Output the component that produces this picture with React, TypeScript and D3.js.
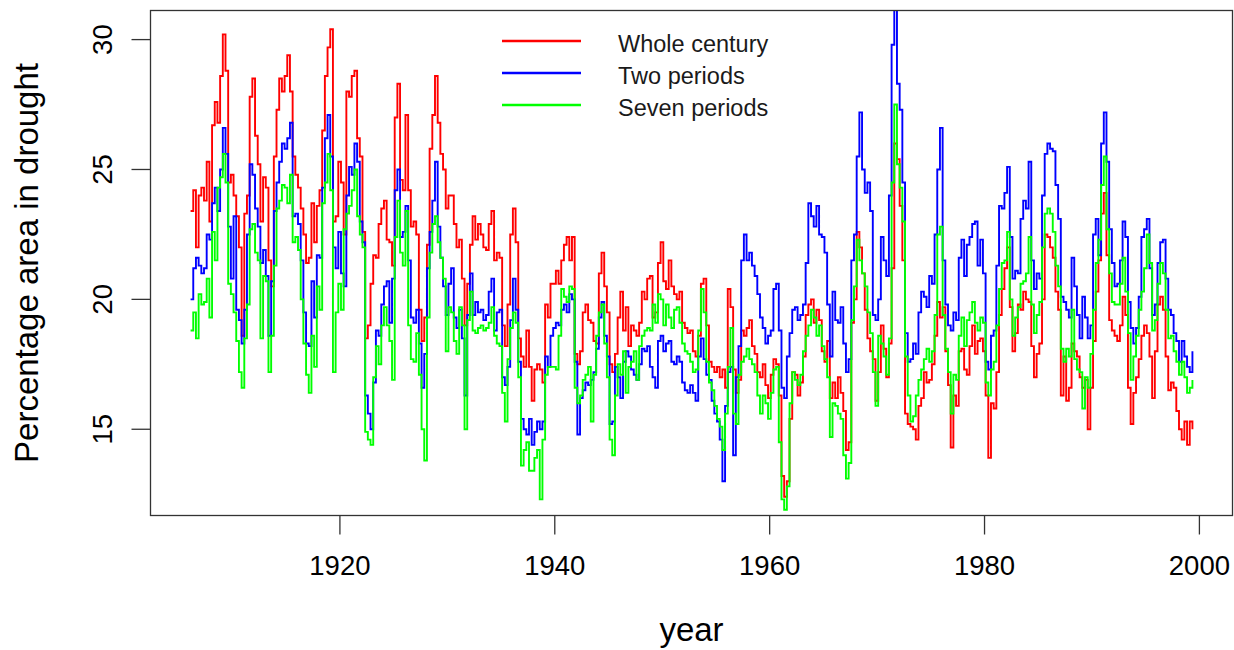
import React from "react";
import * as d3 from "d3";

// Quarterly readings of the percentage of area in drought, starting 1906.1
const START_YEAR = 1906.1;
const STEP = 0.25;

const wholeCentury = [
  23.4, 24.2, 22.0, 24.0,
  24.3, 23.8, 25.3, 23.0,
  26.7, 27.6, 26.8, 28.6,
  30.2, 28.8, 24.5, 24.8,
  24.0, 23.2, 22.0, 18.6,
  23.3, 24.0, 27.8, 28.5,
  26.3, 25.2, 23.0, 24.7,
  24.3, 21.5, 20.5, 25.5,
  27.3, 28.5, 28.0, 28.6,
  29.4, 28.0, 25.5, 24.8,
  24.3, 23.5, 22.5, 21.4,
  21.6, 23.7, 22.2, 23.6,
  24.2, 26.5, 28.6, 29.7,
  30.4, 23.0, 23.2, 25.3,
  24.5, 22.5, 28.0, 27.8,
  28.6, 28.8, 26.2, 25.5,
  22.6, 18.5, 19.0, 20.6,
  21.7, 21.6, 22.9, 23.5,
  23.8, 22.3, 22.2, 21.3,
  27.0, 28.3, 24.6, 24.2,
  27.1, 24.2, 22.8, 23.0,
  22.5, 19.6, 18.4, 19.3,
  22.1, 25.8, 27.1, 28.6,
  26.8, 25.6, 25.0, 23.5,
  24.0, 24.0, 22.9, 22.0,
  22.3, 20.8, 19.0, 20.6,
  22.1, 23.2, 22.3, 22.9,
  22.5, 22.0, 21.9, 22.9,
  23.4, 21.5, 21.8, 21.6,
  19.0, 18.2, 19.8, 22.5,
  23.5, 22.2, 18.5, 17.8,
  17.4, 18.8, 17.4, 16.1,
  17.3, 17.5, 17.3, 16.8,
  19.8, 19.3, 20.6, 20.6,
  21.1, 20.6, 21.5, 22.1,
  22.4, 21.5, 22.4, 17.9,
  17.5, 18.0, 19.5, 19.8,
  19.2, 19.1, 18.4, 18.3,
  21.0, 21.8, 20.5, 19.5,
  17.5, 17.2, 17.9, 19.3,
  20.3, 18.8, 19.7, 18.2,
  19.0, 18.8, 18.6, 19.1,
  20.3, 20.0, 20.8, 20.9,
  19.3, 19.5, 21.4, 22.2,
  20.7, 20.4, 21.5, 20.5,
  20.2, 20.0, 20.3, 19.1,
  18.9, 18.7, 18.8, 18.0,
  17.8, 18.6, 20.6, 20.8,
  19.0, 17.6, 17.4, 17.2,
  17.4, 17.0, 17.3, 16.6,
  20.4, 19.7, 17.3, 16.4,
  16.9, 18.8, 18.6, 18.9,
  19.2, 18.2, 17.9, 17.2,
  17.0, 17.5, 16.7, 16.2,
  17.1, 17.7, 17.5, 16.3,
  13.2, 12.4, 13.0, 15.4,
  17.2, 17.1, 16.3, 16.8,
  17.8, 19.4, 19.8, 20.0,
  19.1, 19.6, 19.2, 18.0,
  17.6, 18.4, 16.2, 16.8,
  16.2, 17.0, 16.4, 15.7,
  14.2, 14.5, 19.1, 20.0,
  22.6, 22.0, 21.0, 19.6,
  18.5, 18.0, 17.7, 16.1,
  17.2, 19.0, 18.1, 17.0,
  18.3, 21.2, 26.0, 25.4,
  23.6, 21.5, 15.6, 15.2,
  15.1, 15.0, 14.6, 15.9,
  16.2, 17.2, 16.8, 16.9,
  17.5, 18.6, 19.9, 19.3,
  19.7, 18.0, 16.7, 14.3,
  16.3, 15.9, 18.0, 18.1,
  17.3, 17.1, 18.2, 19.0,
  17.9, 18.4, 18.5, 18.0,
  16.3, 13.9, 16.0, 15.8,
  17.2, 19.4, 20.4, 21.2,
  22.0, 19.7, 18.0, 18.7,
  19.8, 19.6, 20.3, 20.0,
  19.9, 18.2, 17.0, 17.9,
  18.3, 20.0, 22.5, 22.4,
  22.0, 21.6, 20.3, 19.6,
  16.3, 17.8, 16.1, 16.6,
  18.3, 18.0, 17.8, 17.0,
  16.6, 16.9, 15.0, 16.6,
  18.4, 20.3, 21.5, 23.3,
  24.1, 21.7, 19.2, 18.8,
  18.6, 18.4, 19.0, 20.1,
  19.4, 16.6, 15.2, 16.4,
  17.0, 17.7, 18.6, 19.0,
  18.7, 17.8, 16.2, 18.0,
  19.8, 20.1, 19.6, 17.8,
  16.5, 16.8, 16.6, 15.7,
  15.0, 14.6, 15.3, 14.4,
  15.3, 15.0,
];

const twoPeriods = [
  20.0, 21.2, 21.6, 21.3,
  21.0, 21.2, 22.5, 22.3,
  23.7, 24.3, 23.4, 25.0,
  26.6, 25.6, 22.8, 20.8,
  23.2, 19.6, 19.2, 18.3,
  19.6, 22.5, 25.2, 24.8,
  23.5, 22.8, 21.4, 21.9,
  20.9, 18.6, 20.7, 23.4,
  24.5, 25.3, 26.0, 25.8,
  26.2, 26.8, 23.2, 23.3,
  22.9, 21.5, 19.5, 18.3,
  18.2, 20.7, 19.3, 21.7,
  21.6, 24.3, 26.2, 27.1,
  25.5, 22.0, 21.2, 22.6,
  21.0, 20.5, 24.0, 25.1,
  24.8, 26.0, 25.3, 23.0,
  22.2, 16.3, 15.6, 15.0,
  16.8, 18.8, 18.6, 19.8,
  20.5, 20.7, 19.1, 20.8,
  24.2, 25.0, 22.4, 22.6,
  23.6, 21.5, 19.3, 19.1,
  19.6, 18.3, 16.6, 17.9,
  21.2, 22.6, 23.8, 25.3,
  22.8, 21.6, 20.5, 19.4,
  20.6, 21.2, 19.3, 18.9,
  19.6, 18.5, 16.3, 19.4,
  21.0, 19.4, 19.9, 19.5,
  19.6, 19.2, 19.4, 20.3,
  20.8, 18.8, 19.5, 19.6,
  17.0, 16.7, 17.4, 19.2,
  20.8, 19.6, 17.6, 15.4,
  15.0, 14.8, 15.4, 14.4,
  14.9, 15.3, 15.0, 15.3,
  17.8, 17.4, 18.6, 18.9,
  19.1, 19.0, 19.6, 19.8,
  19.5, 20.2, 20.0, 17.6,
  14.8, 16.2, 16.5, 16.8,
  16.7, 16.9, 17.2, 18.1,
  19.3, 19.9, 18.6, 17.8,
  15.2, 15.3, 17.4, 17.0,
  16.2, 17.6, 18.0, 17.8,
  17.3, 17.1, 16.9, 17.5,
  18.1, 18.0, 18.2, 17.4,
  17.0, 16.6, 18.4, 18.6,
  18.0, 18.3, 18.4, 17.6,
  17.5, 17.8, 17.6, 16.8,
  16.5, 16.4, 16.7, 16.4,
  16.1, 17.8, 18.5, 17.7,
  17.1, 16.9, 16.1, 15.6,
  15.3, 14.6, 13.0, 15.9,
  17.2, 17.4, 14.0, 17.0,
  18.2, 21.5, 22.5, 21.5,
  21.8, 21.3, 20.9, 20.2,
  19.3, 18.9, 18.3, 18.6,
  18.8, 20.4, 20.6, 18.8,
  16.6, 16.2, 17.8, 18.7,
  19.6, 19.7, 19.2, 19.4,
  19.8, 21.4, 23.7, 23.2,
  22.8, 23.6, 22.5, 22.4,
  21.8, 19.8, 17.8, 20.3,
  19.2, 19.1, 19.7, 18.3,
  17.2, 17.7, 21.5, 22.5,
  25.5, 27.2, 25.0, 24.1,
  24.5, 23.4, 19.4, 19.2,
  20.0, 22.4, 21.5, 20.9,
  24.0, 29.8, 31.3, 28.3,
  27.3, 24.5, 18.7, 17.6,
  17.7, 18.3, 17.9, 19.5,
  20.3, 20.1, 19.7, 20.9,
  20.6, 22.5, 25.0, 26.6,
  21.5, 19.8, 19.0, 18.8,
  19.5, 19.2, 21.6, 22.3,
  20.9, 22.1, 22.4, 22.9,
  23.0, 21.3, 22.3, 21.0,
  17.6, 17.3, 18.6, 18.8,
  21.3, 23.6, 23.5, 24.1,
  25.1, 22.4, 20.8, 21.1,
  21.0, 23.1, 23.8, 23.5,
  25.3, 21.5, 20.4, 21.0,
  20.8, 24.0, 25.6, 26.0,
  25.8, 25.7, 24.4, 23.1,
  20.1, 19.9, 19.6, 19.3,
  21.6, 20.5, 19.4, 18.5,
  20.1, 19.3, 18.5, 19.0,
  22.5, 23.1, 21.7, 26.0,
  27.2, 25.3, 22.7, 21.4,
  20.5, 20.6, 21.5, 23.0,
  22.4, 19.9, 18.9, 18.3,
  18.9, 20.1, 22.4, 22.7,
  23.1, 21.2, 19.4, 19.8,
  21.4, 22.2, 22.3, 20.8,
  19.6, 19.4, 18.7, 18.4,
  17.6, 18.4, 17.8, 17.4,
  17.2, 18.0,
];

const sevenPeriods = [
  18.8, 19.5, 18.5, 20.2,
  19.8, 19.9, 20.8, 19.3,
  22.6, 21.5, 24.3, 24.7,
  25.6, 24.5, 20.6, 20.2,
  19.5, 18.4, 17.2, 16.6,
  18.5, 19.8, 22.7, 22.9,
  21.8, 21.5, 18.5, 20.9,
  20.7, 17.2, 18.6, 21.3,
  23.5, 23.8, 24.4, 24.3,
  23.7, 24.8, 22.2, 22.4,
  21.9, 20.0, 18.3, 17.1,
  16.4, 18.6, 17.4, 20.5,
  19.6, 23.7, 24.5, 25.6,
  24.2, 17.2, 19.5, 20.6,
  19.6, 22.7, 23.3, 23.6,
  24.2, 25.0, 23.2, 22.5,
  22.0, 14.9, 14.6, 14.4,
  17.0, 18.2, 17.5, 19.0,
  19.7, 19.0, 18.4, 16.9,
  22.4, 23.8, 21.8, 21.3,
  23.4, 19.0, 17.7, 17.6,
  18.7, 17.1, 15.0, 13.8,
  19.3, 21.8, 22.9, 23.2,
  22.2, 21.6, 20.8, 18.0,
  19.7, 19.5, 18.4, 17.9,
  19.7, 19.0, 15.0, 19.2,
  20.3, 18.8, 18.7, 18.9,
  19.0, 18.8, 18.9, 19.1,
  19.7, 18.6, 18.3, 18.2,
  16.4, 15.3, 17.7, 18.9,
  19.5, 19.1, 17.0, 13.6,
  14.2, 14.5, 13.4, 13.4,
  13.9, 14.2, 12.3, 14.6,
  17.1, 17.4, 17.4, 17.4,
  17.3, 18.6, 20.4, 20.1,
  19.9, 20.5, 20.4, 16.6,
  16.0, 16.3, 16.9, 17.1,
  17.4, 15.3, 17.1, 18.6,
  19.5, 19.8, 18.3, 17.0,
  14.6, 14.0, 16.3, 17.5,
  17.1, 18.0, 16.4, 17.4,
  17.6, 18.0, 16.9, 18.2,
  18.6, 18.8, 18.9, 18.8,
  19.8, 19.1, 20.2, 20.0,
  19.0, 19.8, 19.3, 18.9,
  19.6, 19.7, 19.1, 18.3,
  18.0, 17.9, 17.6, 17.2,
  17.3, 18.8, 20.4, 19.5,
  17.6, 16.8, 16.5, 15.9,
  15.4, 15.1, 14.2, 15.6,
  17.4, 18.9, 15.6, 15.2,
  17.1, 17.6, 17.8, 18.1,
  17.7, 17.5, 17.2, 16.3,
  15.6, 16.3, 16.0, 15.4,
  16.4, 17.3, 17.4, 14.5,
  12.3, 11.9, 12.8, 16.0,
  17.2, 16.9, 16.7, 17.1,
  18.0, 18.6, 19.0, 19.6,
  19.3, 18.6, 19.0, 18.2,
  17.7, 17.0, 14.7, 16.0,
  15.9, 15.6, 15.4, 14.0,
  13.1, 13.7, 19.2, 20.5,
  22.3, 21.5, 21.0, 20.5,
  19.5, 18.7, 17.2, 15.9,
  18.6, 18.3, 17.8, 17.1,
  18.5, 24.5, 27.5, 25.2,
  24.3, 23.0, 17.8, 16.3,
  15.3, 15.5, 16.3, 16.9,
  17.3, 17.7, 18.1, 17.6,
  18.0, 19.4, 22.5, 22.8,
  19.4, 18.1, 17.2, 15.6,
  17.1, 16.9, 18.6, 19.3,
  18.2, 19.2, 19.5, 19.9,
  19.1, 18.8, 19.3, 19.1,
  16.8, 16.3, 17.3, 17.6,
  19.0, 20.4, 21.4, 21.5,
  22.6, 20.0, 18.6, 19.3,
  19.7, 20.6, 20.7, 21.0,
  22.4, 19.8, 18.7, 19.4,
  19.9, 22.0, 23.3, 23.5,
  23.3, 22.6, 21.3, 20.5,
  18.1, 17.6, 18.1, 17.8,
  19.6, 17.7, 17.3, 17.2,
  15.8, 17.0, 16.6, 17.9,
  19.6, 21.4, 22.3, 24.4,
  25.5, 22.7, 21.0, 19.9,
  19.8, 19.8, 20.6, 21.6,
  20.3, 18.7, 16.9, 17.8,
  18.6, 19.6, 20.3, 21.2,
  22.5, 21.4, 18.8, 19.2,
  20.6, 21.4, 21.0, 19.6,
  18.5, 18.6, 18.0, 17.6,
  17.1, 17.6, 17.0, 16.4,
  16.6, 16.9,
];

const seriesNames = ["Whole century", "Two periods", "Seven periods"];
const seriesColors = ["#ff0000", "#0000ff", "#00ff00"];
const xTicks = [1920, 1940, 1960, 1980, 2000];
const yTicks = [15, 20, 25, 30];

const WIDTH = 1234;
const HEIGHT = 650;
const PLOT = { left: 150.5, right: 1232.5, top: 10.5, bottom: 515.5 };
const FONT = "'Liberation Sans', Arial, Helvetica, sans-serif";

// R-style axis range: data extent widened by 4% on each side
function padded(ext: [number, number]): [number, number] {
  const r = ext[1] - ext[0];
  return [ext[0] - 0.04 * r, ext[1] + 0.04 * r];
}

export default function App() {
  const times = wholeCentury.map((_, i) => START_YEAR + i * STEP);
  const x = d3
    .scaleLinear()
    .domain(padded(d3.extent(times) as [number, number]))
    .range([PLOT.left, PLOT.right]);
  const y = d3
    .scaleLinear()
    .domain(padded(d3.extent(wholeCentury) as [number, number]))
    .range([PLOT.bottom, PLOT.top]);

  const line = d3
    .line<number>()
    .x((_, i) => x(times[i]))
    .y((d) => y(d))
    .curve(d3.curveStepAfter);

  const series = [wholeCentury, twoPeriods, sevenPeriods];
  const legendX0 = 502;
  const legendX1 = 581;
  const legendY = [41, 73, 105];

  return (
    <svg
      width={WIDTH}
      height={HEIGHT}
      style={{ position: "absolute", left: 0, top: 0, background: "#fff", display: "block" }}
      fontFamily={FONT}
    >
      <defs>
        <clipPath id="plot-area">
          <rect
            x={PLOT.left}
            y={PLOT.top}
            width={PLOT.right - PLOT.left}
            height={PLOT.bottom - PLOT.top}
          />
        </clipPath>
      </defs>
      <rect width={WIDTH} height={HEIGHT} fill="#fff" />

      <g clipPath="url(#plot-area)" fill="none" strokeWidth={1.9} strokeLinejoin="miter">
        {series.map((s, k) => (
          <path key={seriesNames[k]} d={line(s) || ""} stroke={seriesColors[k]} />
        ))}
      </g>

      {/* plot frame */}
      <rect
        x={PLOT.left}
        y={PLOT.top}
        width={PLOT.right - PLOT.left}
        height={PLOT.bottom - PLOT.top}
        fill="none"
        stroke="#333"
        strokeWidth={1.3}
      />

      {/* x axis */}
      <g>
        {xTicks.map((t) => (
          <g key={t}>
            <line x1={x(t)} x2={x(t)} y1={PLOT.bottom} y2={PLOT.bottom + 19} stroke="#333" strokeWidth={1.3} />
            <text x={x(t)} y={575} textAnchor="middle" fontSize={27.5} fill="#000">
              {t}
            </text>
          </g>
        ))}
      </g>

      {/* y axis */}
      <g>
        {yTicks.map((t) => (
          <g key={t}>
            <line x1={PLOT.left - 19} x2={PLOT.left} y1={y(t)} y2={y(t)} stroke="#333" strokeWidth={1.3} />
            <text
              transform={`translate(112,${y(t)}) rotate(-90)`}
              textAnchor="middle"
              fontSize={27.5}
              fill="#000"
            >
              {t}
            </text>
          </g>
        ))}
      </g>

      {/* axis titles */}
      <text x={(PLOT.left + PLOT.right) / 2} y={641} textAnchor="middle" fontSize={33} fill="#000">
        year
      </text>
      <text
        transform={`translate(38,${(PLOT.top + PLOT.bottom) / 2}) rotate(-90)`}
        textAnchor="middle"
        fontSize={33}
        fill="#000"
      >
        Percentage area in drought
      </text>

      {/* legend */}
      <g>
        {seriesNames.map((name, k) => (
          <g key={name}>
            <line
              x1={legendX0}
              x2={legendX1}
              y1={legendY[k]}
              y2={legendY[k]}
              stroke={seriesColors[k]}
              strokeWidth={2.6}
            />
            <text x={618} y={legendY[k] + 11} fontSize={23.5} fill="#1a1a1a">
              {name}
            </text>
          </g>
        ))}
      </g>
    </svg>
  );
}
